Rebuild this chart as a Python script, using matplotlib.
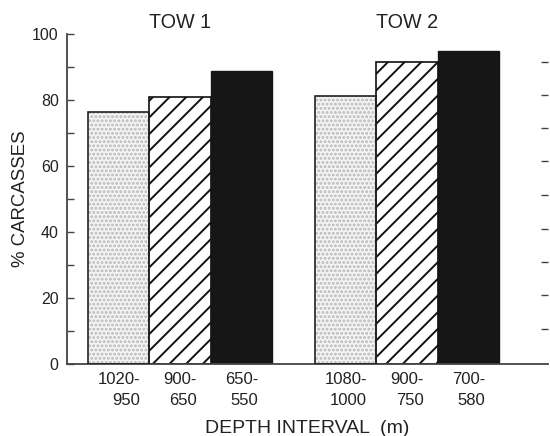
import matplotlib
matplotlib.use("Agg")
import matplotlib.pyplot as plt
from matplotlib.ticker import MultipleLocator

plt.rcParams['font.family'] = ['Liberation Sans', 'DejaVu Sans']
plt.rcParams['hatch.linewidth'] = 1.4

tows = ["TOW 1", "TOW 2"]
depth_labels = ["1020-\n950", "900-\n650", "650-\n550",
                "1080-\n1000", "900-\n750", "700-\n580"]
pct_carcasses = [76.4, 80.8, 88.8, 81.1, 91.4, 94.8]
positions = [0.84, 1.84, 2.84, 4.53, 5.53, 6.53]
styles = ["dots", "hatch", "solid"] * 2

fig = plt.figure(figsize=(5.5, 4.36), dpi=100)
W, H = 550, 436
x0, x1, y0, y1 = 67, 548, 364, 34
ax = fig.add_axes([x0 / W, 1 - y0 / H, (x1 - x0) / W, (y0 - y1) / H])

for p, v, s in zip(positions, pct_carcasses, styles):
    if s == "dots":
        ax.bar(p, v, width=1.0, color='#f4f4f4', edgecolor='#b8b8b8',
               hatch='....', linewidth=0, zorder=2)
        ax.bar(p, v, width=1.0, fill=False, edgecolor='#222222',
               linewidth=1.2, zorder=3)
    elif s == "hatch":
        ax.bar(p, v, width=1.0, color='white', edgecolor='#111111',
               hatch='//', linewidth=1.2, zorder=2)
    else:
        ax.bar(p, v, width=1.0, color='#161616', edgecolor='#161616',
               linewidth=1.0, zorder=2)

ax.set_xlim(0, (x1 - x0) / 61.5)
ax.set_ylim(0, 100)
for sp in ['top', 'right']:
    ax.spines[sp].set_visible(False)
for sp in ['left', 'bottom']:
    ax.spines[sp].set_color('#444444')
    ax.spines[sp].set_linewidth(1.3)

ax.yaxis.set_major_locator(MultipleLocator(20))
ax.yaxis.set_minor_locator(MultipleLocator(10))
ax.tick_params(axis='y', which='both', direction='in', length=5,
               color='#444444', width=1.0, labelsize=11.5, pad=6,
               labelcolor='#222222')
ax.set_xticks(positions)
ax.set_xticklabels(depth_labels, fontsize=12, multialignment='right',
                   linespacing=1.45, color='#222222')
ax.tick_params(axis='x', length=0, pad=6)

ax.set_ylabel('% CARCASSES', fontsize=13.4, color='#222222', labelpad=2)
ax.set_xlabel('DEPTH INTERVAL  (m)', fontsize=14, color='#222222', labelpad=9)

for t, p in zip(tows, [positions[1], positions[4]]):
    ax.text(p, 1 + (34 - 22) / 330, t, transform=ax.get_xaxis_transform(),
            ha='center', va='center', fontsize=14.2, color='#222222')

ax2 = ax.twinx()
ax2.set_ylim(0, 100)
ax2.set_yticks([10.6, 20.8, 31.0, 41.0, 51.2, 61.4, 71.5, 81.5, 91.5])
ax2.tick_params(axis='y', direction='in', length=5, color='#444444',
                width=1.0, labelright=False, pad=0)
for sp in ax2.spines.values():
    sp.set_visible(False)
ax2.set_xlim(ax.get_xlim())

fig.savefig('out.png', dpi=100)
